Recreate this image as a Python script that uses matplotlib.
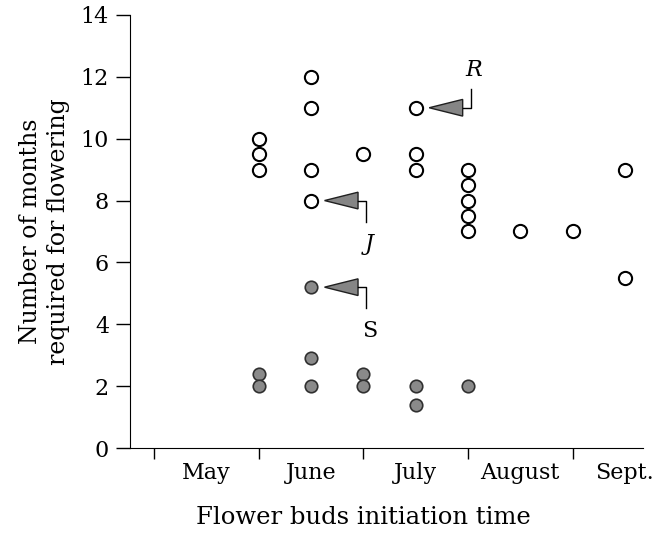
import matplotlib.pyplot as plt
from matplotlib.patches import Polygon

# month boundaries sit on integer ticks: 1=May 1, 2=June 1 ... 5=Sept 1
month_ticks = [1, 2, 3, 4, 5]
month_labels = ['May', 'June', 'July', 'August', 'Sept.']
label_pos = [1.5, 2.5, 3.5, 4.5, 5.5]

# open circles: months required for flowering
open_x = [2, 2, 2, 2.5, 2.5, 2.5, 2.5, 3, 3.5, 3.5, 3.5,
          4, 4, 4, 4, 4, 4.5, 5, 5.5, 5.5]
open_y = [10, 9.5, 9, 12, 11, 9, 8, 9.5, 11, 9.5, 9,
          9, 8.5, 8, 7.5, 7, 7, 7, 9, 5.5]

# filled circles
fill_x = [2, 2, 2.5, 2.5, 2.5, 3, 3, 3.5, 3.5, 4]
fill_y = [2.4, 2, 5.2, 2.9, 2, 2.4, 2, 2, 1.4, 2]

# labelled points: (x, y, letter, bracket direction)
marked = [(3.5, 11, 'R', 1), (2.5, 8, 'J', -1), (2.5, 5.2, 'S', -1)]

plt.rcParams['font.family'] = 'DejaVu Serif'

fig = plt.figure(figsize=(6.66, 5.34), dpi=100)
ax = fig.add_axes([0.195, 0.161, 0.77, 0.811])

ax.plot(open_x, open_y, 'o', ms=9.5, mfc='white', mec='black', mew=1.5, ls='none')
ax.plot(fill_x, fill_y, 'o', ms=9, mfc='#8a8a8a', mec='#303030', mew=1.2, ls='none')

for x, y, txt, d in marked:
    tip = x + 0.13
    base = x + 0.45
    tri = Polygon([(tip, y), (base, y + 0.27), (base, y - 0.27)],
                  closed=True, fc='#858585', ec='#202020', lw=1.0)
    ax.add_patch(tri)
    bx = x + 0.53
    by = y + d * (0.6 if d > 0 else 0.68)
    ax.plot([base, bx, bx], [y, y, by], color='black', lw=1.0)
    ly = y + (1.22 if d > 0 else -1.42)
    style = 'normal' if txt == 'S' else 'italic'
    ax.text(x + 0.56, ly, txt, fontsize=16, style=style,
            ha='center', va='center')

ax.set_xlim(0.77, 5.67)
ax.set_ylim(0, 14)
ax.set_yticks(range(0, 15, 2))
ax.set_xticks(month_ticks)
ax.set_xticklabels([])
ax.set_xticks(label_pos, minor=True)
ax.set_xticklabels(month_labels, minor=True)
ax.tick_params(axis='x', which='minor', length=0, labelsize=16, pad=10)
ax.tick_params(axis='x', which='major', direction='out', length=8, width=1)
ax.tick_params(axis='y', direction='out', length=10, width=1, labelsize=16, pad=5)

ax.spines['top'].set_visible(False)
ax.spines['right'].set_visible(False)

ax.set_xlabel('Flower buds initiation time', fontsize=17.5)
ax.xaxis.set_label_coords(0.455, -0.134)
ax.set_ylabel('Number of months\nrequired for flowering', fontsize=17,
              linespacing=1.3)
ax.yaxis.set_label_coords(-0.116, 0.5)

fig.savefig('out.png', dpi=100)
